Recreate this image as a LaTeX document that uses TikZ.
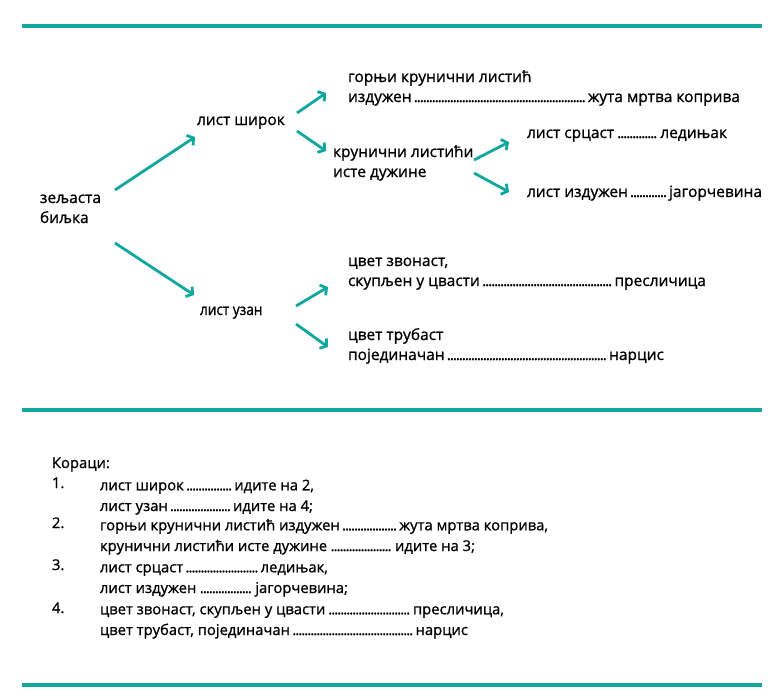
\documentclass[tikz,border=0pt]{standalone}
\usepackage{fontspec}
\usepackage{graphicx}
\setmainfont{Open Sans}[FakeBold=1.0]
\usetikzlibrary{arrows.meta}
\definecolor{tealline}{RGB}{16,168,158}
\newcommand\dlead{\hskip 2.5pt\cleaders\hbox to 3pt{\hss.\hss}\hfill\hskip 2.5pt}
\begin{document}
\begin{tikzpicture}[x=1pt,y=-1pt,
  rule/.style={draw=tealline,line width=4pt},
  arr/.style={draw=tealline,line width=2.8pt,-{Straight Barb[length=4.5pt,width=12pt]}},
  lbl/.style={anchor=base west,inner sep=0pt,outer sep=0pt,align=left,font=\fontsize{15.5}{20}\selectfont},
  lowlbl/.style={anchor=base west,inner sep=0pt,outer sep=0pt,align=left,font=\fontsize{14.8}{20.7}\selectfont}]
\useasboundingbox[fill=white] (0,0) rectangle (768,699);
% rules
\coordinate (r1a) at (22,26); \coordinate (r1b) at (762,26);
\coordinate (r2a) at (22,410); \coordinate (r2b) at (762,410);
\coordinate (r3a) at (22,685); \coordinate (r3b) at (762,685);
\draw[rule] (r1a) -- (r1b);
\draw[rule] (r2a) -- (r2b);
\draw[rule] (r3a) -- (r3b);
% upper key (multi-line nodes are placed by the baseline of their last line)
\node[lbl] (zel) at (40,223) {зељаста\\биљка};
\node[lbl] (sirok) at (197,125) {лист широк};
\node[lbl] (gornji) at (348,102) {горњи крунични листић\\\hbox to 392pt{издужен\dlead жута мртва коприва}};
\node[lbl] (krun) at (333,177) {крунични листићи\\исте дужине};
\node[lbl] (srcast) at (527,138) {\hbox to 200pt{лист срцаст\dlead ледињак}};
\node[lbl] (izduz) at (527,197) {\hbox to 235pt{лист издужен\dlead јагорчевина}};
\node[lbl] (uzan) at (200,315) {\scalebox{0.88}[1]{лист узан}};
\node[lbl] (zvon) at (348,286) {цвет звонаст,\\\hbox to 358pt{скупљен у цвасти\dlead пресличица}};
\node[lbl] (trub) at (348,360) {цвет трубаст\\\hbox to 316pt{појединачан\dlead нарцис}};
% arrow end points
\coordinate (a1s) at (115,190); \coordinate (a1e) at (195,137);
\coordinate (a2s) at (115,243); \coordinate (a2e) at (194,295);
\coordinate (a3s) at (297,113); \coordinate (a3e) at (326,93);
\coordinate (a4s) at (297,131); \coordinate (a4e) at (326,151);
\coordinate (a5s) at (474,160); \coordinate (a5e) at (509,142);
\coordinate (a6s) at (474,173); \coordinate (a6e) at (509,192);
\coordinate (a7s) at (296,306); \coordinate (a7e) at (328,287);
\coordinate (a8s) at (296,324); \coordinate (a8e) at (328,347);
\draw[arr] (a1s) -- (a1e);
\draw[arr] (a2s) -- (a2e);
\draw[arr] (a3s) -- (a3e);
\draw[arr] (a4s) -- (a4e);
\draw[arr] (a5s) -- (a5e);
\draw[arr] (a6s) -- (a6e);
\draw[arr] (a7s) -- (a7e);
\draw[arr] (a8s) -- (a8e);
% lower steps
\node[lowlbl] (korac) at (52,468) {Кораци:};
\node[lowlbl] (n1) at (52,488) {1.};
\node[lowlbl] (n2) at (52,528) {2.};
\node[lowlbl] (n3) at (52,570) {3.};
\node[lowlbl] (n4) at (52,613) {4.};
\node[lowlbl] (s1) at (100,511) {\hbox to 214pt{лист широк\dlead идите на 2,}\\\hbox to 213pt{лист узан\dlead идите на 4;}};
\node[lowlbl] (s2) at (100,551) {\hbox to 448pt{горњи крунични листић издужен\dlead жута мртва коприва,}\\\hbox to 375pt{крунични листићи исте дужине\dlead идите на 3;}};
\node[lowlbl] (s3) at (100,593) {\hbox to 228pt{лист срцаст\dlead ледињак,}\\\hbox to 248pt{лист издужен\dlead јагорчевина;}};
\node[lowlbl] (s4) at (100,635) {\hbox to 404pt{цвет звонаст, скупљен у цвасти\dlead пресличица,}\\\hbox to 368pt{цвет трубаст, појединачан\dlead нарцис}};
\end{tikzpicture}
\end{document}
